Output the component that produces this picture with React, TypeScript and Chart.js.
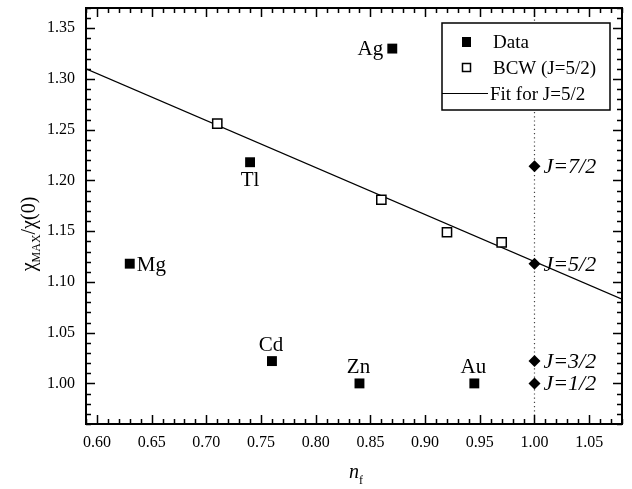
import React, { useEffect, useRef } from "react";
import { Chart, registerables } from "chart.js";

Chart.register(...registerables);

// ---- data ----
const dataX = [0.87, 0.74, 0.63, 0.76, 0.84, 0.945];
const dataY = [1.33, 1.218, 1.118, 1.022, 1.0, 1.0];
const dataLabels = ["Ag", "Tl", "Mg", "Cd", "Zn", "Au"];

const bcwX = [0.71, 0.86, 0.92, 0.97];
const bcwY = [1.256, 1.181, 1.149, 1.139];

const fitX = [0.59, 1.08];
const fitY = [1.31, 1.083];

const jX = [1.0, 1.0, 1.0, 1.0];
const jY = [1.214, 1.118, 1.022, 1.0];
const jLabels = ["J=7/2", "J=5/2", "J=3/2", "J=1/2"];

const refLineX = [1.0, 1.0];
const refLineY = [0.96, 1.37];

const xTicks = [0.6, 0.65, 0.7, 0.75, 0.8, 0.85, 0.9, 0.95, 1.0, 1.05];
const yTicks = [1.0, 1.05, 1.1, 1.15, 1.2, 1.25, 1.3, 1.35];

const legendLabels = ["Data", "BCW (J=5/2)", "Fit for J=5/2"];

const FONT = "'Liberation Serif', 'Times New Roman', serif";

const toPts = (xs: number[], ys: number[]) => xs.map((x, i) => ({ x, y: ys[i] }));

const decorPlugin = {
  id: "decor",
  afterDraw(chart: any) {
    const { ctx, chartArea } = chart;
    const xs = chart.scales.x;
    const ys = chart.scales.y;
    const { left, right, top, bottom } = chartArea;
    ctx.save();

    // frame
    ctx.strokeStyle = "#000";
    ctx.lineWidth = 2;
    ctx.strokeRect(left, top, right - left, bottom - top);

    // ticks
    ctx.lineWidth = 1.5;
    ctx.beginPath();
    for (let i = 59; i <= 108; i++) {
      const v = i / 100;
      const px = Math.round(xs.getPixelForValue(v)) + 0.5;
      const major = i % 5 === 0;
      const len = major ? 9 : 5;
      ctx.moveTo(px, bottom);
      ctx.lineTo(px, bottom - len);
      ctx.moveTo(px, top);
      ctx.lineTo(px, top + len);
    }
    for (let i = 96; i <= 137; i++) {
      const v = i / 100;
      const py = Math.round(ys.getPixelForValue(v)) + 0.5;
      const major = i % 5 === 0;
      const len = major ? 9 : 5;
      ctx.moveTo(left, py);
      ctx.lineTo(left + len, py);
      ctx.moveTo(right, py);
      ctx.lineTo(right - len, py);
    }
    ctx.stroke();

    // point labels
    ctx.fillStyle = "#000";
    ctx.font = `21px ${FONT}`;
    dataLabels.forEach((lab, i) => {
      const px = xs.getPixelForValue(dataX[i]);
      const py = ys.getPixelForValue(dataY[i]);
      if (lab === "Ag") {
        ctx.textAlign = "right";
        ctx.textBaseline = "alphabetic";
        ctx.fillText(lab, px - 9, py + 6);
      } else if (lab === "Tl") {
        ctx.textAlign = "center";
        ctx.textBaseline = "top";
        ctx.fillText(lab, px, py + 8);
      } else if (lab === "Mg") {
        ctx.textAlign = "left";
        ctx.textBaseline = "alphabetic";
        ctx.fillText(lab, px + 7, py + 7);
      } else {
        ctx.textAlign = "center";
        ctx.textBaseline = "alphabetic";
        ctx.fillText(lab, px - 1, py - 10);
      }
    });

    // J labels
    ctx.font = `italic 22px ${FONT}`;
    ctx.textAlign = "left";
    ctx.textBaseline = "alphabetic";
    jLabels.forEach((lab, i) => {
      const px = xs.getPixelForValue(jX[i]);
      const py = ys.getPixelForValue(jY[i]);
      ctx.fillText(lab, px + 9, py + 7);
    });

    // legend
    const lx = 442, ly = 23, lw = 168, lh = 87;
    ctx.fillStyle = "#fff";
    ctx.fillRect(lx, ly, lw, lh);
    ctx.strokeStyle = "#000";
    ctx.lineWidth = 1.5;
    ctx.strokeRect(lx, ly, lw, lh);
    ctx.fillStyle = "#000";
    ctx.fillRect(462, 37, 9, 10);
    ctx.lineWidth = 1.5;
    ctx.strokeRect(462.5, 63.5, 8, 8);
    ctx.lineWidth = 1;
    ctx.beginPath();
    ctx.moveTo(442, 93.5);
    ctx.lineTo(488, 93.5);
    ctx.stroke();
    ctx.font = `19px ${FONT}`;
    ctx.textAlign = "left";
    ctx.textBaseline = "alphabetic";
    ctx.fillText(legendLabels[0], 493, 48);
    ctx.fillText(legendLabels[1], 493, 74);
    ctx.fillText(legendLabels[2], 490, 100);

    // y axis title
    ctx.save();
    ctx.translate(31, 234);
    ctx.rotate(-Math.PI / 2);
    const big = `20px ${FONT}`;
    const small = `12px ${FONT}`;
    ctx.font = big;
    const w1 = ctx.measureText("χ").width;
    const w3 = ctx.measureText("/χ(0)").width;
    ctx.font = small;
    const w2 = ctx.measureText("MAX").width;
    const total = w1 + w2 + w3;
    let cx = -total / 2;
    ctx.textAlign = "left";
    ctx.textBaseline = "alphabetic";
    ctx.font = big;
    ctx.fillText("χ", cx, 4);
    cx += w1;
    ctx.font = small;
    ctx.fillText("MAX", cx, 9);
    cx += w2;
    ctx.font = big;
    ctx.fillText("/χ(0)", cx, 4);
    ctx.restore();

    // x axis title
    ctx.font = `italic 20px ${FONT}`;
    const wn = ctx.measureText("n").width;
    ctx.font = `12px ${FONT}`;
    const wf = ctx.measureText("f").width;
    const sx = 356 - (wn + wf) / 2;
    ctx.textAlign = "left";
    ctx.textBaseline = "alphabetic";
    ctx.font = `italic 20px ${FONT}`;
    ctx.fillText("n", sx, 478);
    ctx.font = `12px ${FONT}`;
    ctx.fillText("f", sx + wn, 484);

    ctx.restore();
  },
};

export default function App() {
  const ref = useRef<HTMLCanvasElement | null>(null);

  useEffect(() => {
    if (!ref.current) return;
    const chart = new Chart(ref.current, {
      type: "scatter",
      data: {
        datasets: [
          {
            label: "J",
            data: toPts(jX, jY),
            pointStyle: "rectRot",
            pointRadius: 6,
            backgroundColor: "#000",
            borderColor: "#000",
            borderWidth: 0,
            order: 0,
          },
          {
            label: legendLabels[0],
            data: toPts(dataX, dataY),
            pointStyle: "rect",
            pointRadius: 7,
            backgroundColor: "#000",
            borderColor: "#000",
            borderWidth: 0,
            order: 1,
          },
          {
            label: legendLabels[1],
            data: toPts(bcwX, bcwY),
            pointStyle: "rect",
            pointRadius: 6.5,
            backgroundColor: "#fff",
            borderColor: "#000",
            borderWidth: 1.5,
            order: 2,
          },
          {
            label: legendLabels[2],
            data: toPts(fitX, fitY),
            showLine: true,
            pointRadius: 0,
            borderColor: "#000",
            borderWidth: 1.2,
            order: 3,
          },
          {
            label: "ref",
            data: toPts(refLineX, refLineY),
            showLine: true,
            pointRadius: 0,
            borderColor: "#444",
            borderWidth: 1.2,
            borderDash: [1.2, 3],
            order: 4,
          },
        ],
      },
      options: {
        animation: false,
        responsive: false,
        devicePixelRatio: 1,
        layout: { padding: { left: 0, top: 6, right: 10, bottom: 0 } },
        plugins: {
          legend: { display: false },
          tooltip: { enabled: false },
        },
        scales: {
          x: {
            type: "linear",
            min: 0.59,
            max: 1.08,
            grid: { display: false, drawTicks: false },
            border: { display: false },
            afterBuildTicks: (s: any) => {
              s.ticks = xTicks.map((v) => ({ value: v }));
            },
            afterFit: (s: any) => {
              s.height = 65;
              s.paddingLeft = 0;
              s.paddingRight = 0;
            },
            ticks: {
              padding: 9,
              color: "#000",
              font: { family: FONT, size: 16 },
              maxRotation: 0,
              autoSkip: false,
              callback: (v: any) => Number(v).toFixed(2),
            },
          },
          y: {
            type: "linear",
            min: 0.96,
            max: 1.37,
            grid: { display: false, drawTicks: false },
            border: { display: false },
            afterBuildTicks: (s: any) => {
              s.ticks = yTicks.map((v) => ({ value: v }));
            },
            afterFit: (s: any) => {
              s.width = 86;
              s.paddingTop = 0;
              s.paddingBottom = 0;
            },
            ticks: {
              padding: 11,
              color: "#000",
              font: { family: FONT, size: 16 },
              autoSkip: false,
              callback: (v: any) => Number(v).toFixed(2),
            },
          },
        },
      },
      plugins: [decorPlugin],
    });
    return () => chart.destroy();
  }, []);

  return (
    <div style={{ position: "absolute", left: 0, top: 0, width: 632, height: 489, background: "#fff" }}>
      <canvas ref={ref} width={632} height={489} style={{ width: 632, height: 489 }} />
    </div>
  );
}
